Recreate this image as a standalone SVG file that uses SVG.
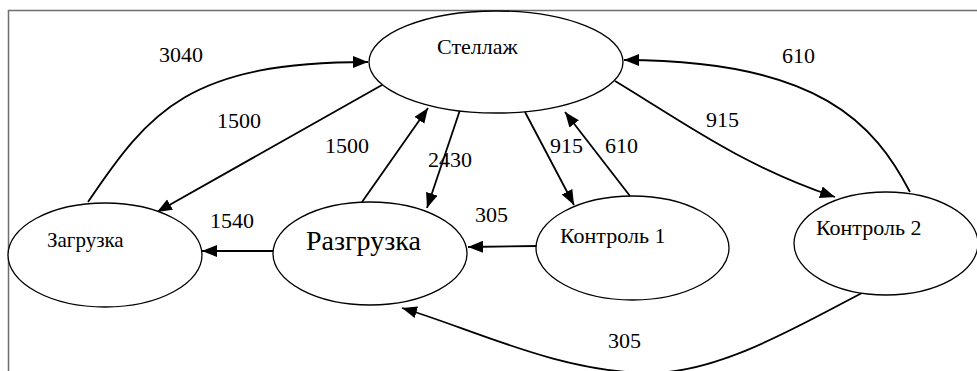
<svg xmlns="http://www.w3.org/2000/svg" width="977" height="371" viewBox="0 0 977 371">
<style>
.node ellipse{fill:#fff;stroke:#000;stroke-width:1.3}
text{font-family:'Liberation Serif','DejaVu Serif',serif;fill:#000}
.lbl{font-size:22px}
.edge{fill:none;stroke:#000;stroke-width:1.8;marker-end:url(#arr)}
</style>
<defs>
<marker id="arr" markerUnits="userSpaceOnUse" markerWidth="16" markerHeight="13" refX="15" refY="6" orient="auto">
<path d="M0,0 L15,6 L0,12 z" fill="#000"/>
</marker>
</defs>
<rect width="977" height="371" fill="#fff"/>
<rect x="8.5" y="10.5" width="1000" height="400" fill="none" stroke="#6e6e6e" stroke-width="1.5"/>
<g id="connectors" font-family="Liberation Serif, serif">
<path class="edge" d="M88,202 C150,110 190,62 368,62"/>
<path class="edge" d="M382,85 L157,212"/>
<path class="edge" d="M362,202 L428,108"/>
<path class="edge" d="M460,110 L427,208"/>
<path class="edge" d="M525,112 L574,205"/>
<path class="edge" d="M630,196 L565,112"/>
<path class="edge" d="M615,81 C680,120 740,165 835,197"/>
<path class="edge" d="M910,192 C875,125 820,60 624,60"/>
<path class="edge" d="M537,246 L468,247"/>
<path class="edge" d="M273,251 L202,251"/>
<path class="edge" d="M862,293 C800,325 720,373 650,373 C560,373 470,328 402,308"/>
<text class="lbl" x="159" y="62">3040</text>
<text class="lbl" x="217" y="128">1500</text>
<text class="lbl" x="325" y="153">1500</text>
<text class="lbl" x="428" y="167">2430</text>
<text class="lbl" x="550" y="153">915</text>
<text class="lbl" x="605" y="153">610</text>
<text class="lbl" x="706" y="127">915</text>
<text class="lbl" x="782" y="63">610</text>
<text class="lbl" x="475" y="222">305</text>
<text class="lbl" x="210" y="228">1540</text>
<text class="lbl" x="608" y="348">305</text>
</g>
<g id="stellazh" class="node">
<ellipse cx="496" cy="62" rx="127" ry="51"/>
<text x="437" y="54" font-size="22">Стеллаж</text>
</g>
<g id="zagruzka" class="node">
<ellipse cx="105" cy="255" rx="97" ry="52"/>
<text x="47" y="247" font-size="21">Загрузка</text>
</g>
<g id="razgruzka" class="node">
<ellipse cx="370" cy="253.5" rx="97" ry="51.5"/>
<text x="306" y="250" font-size="28">Разгрузка</text>
</g>
<g id="kontrol1" class="node">
<ellipse cx="632.5" cy="248" rx="96.5" ry="52"/>
<text x="560" y="243" font-size="22">Контроль 1</text>
</g>
<g id="kontrol2" class="node">
<ellipse cx="886" cy="243.5" rx="92" ry="51.5"/>
<text x="816" y="235" font-size="22">Контроль 2</text>
</g>
</svg>
